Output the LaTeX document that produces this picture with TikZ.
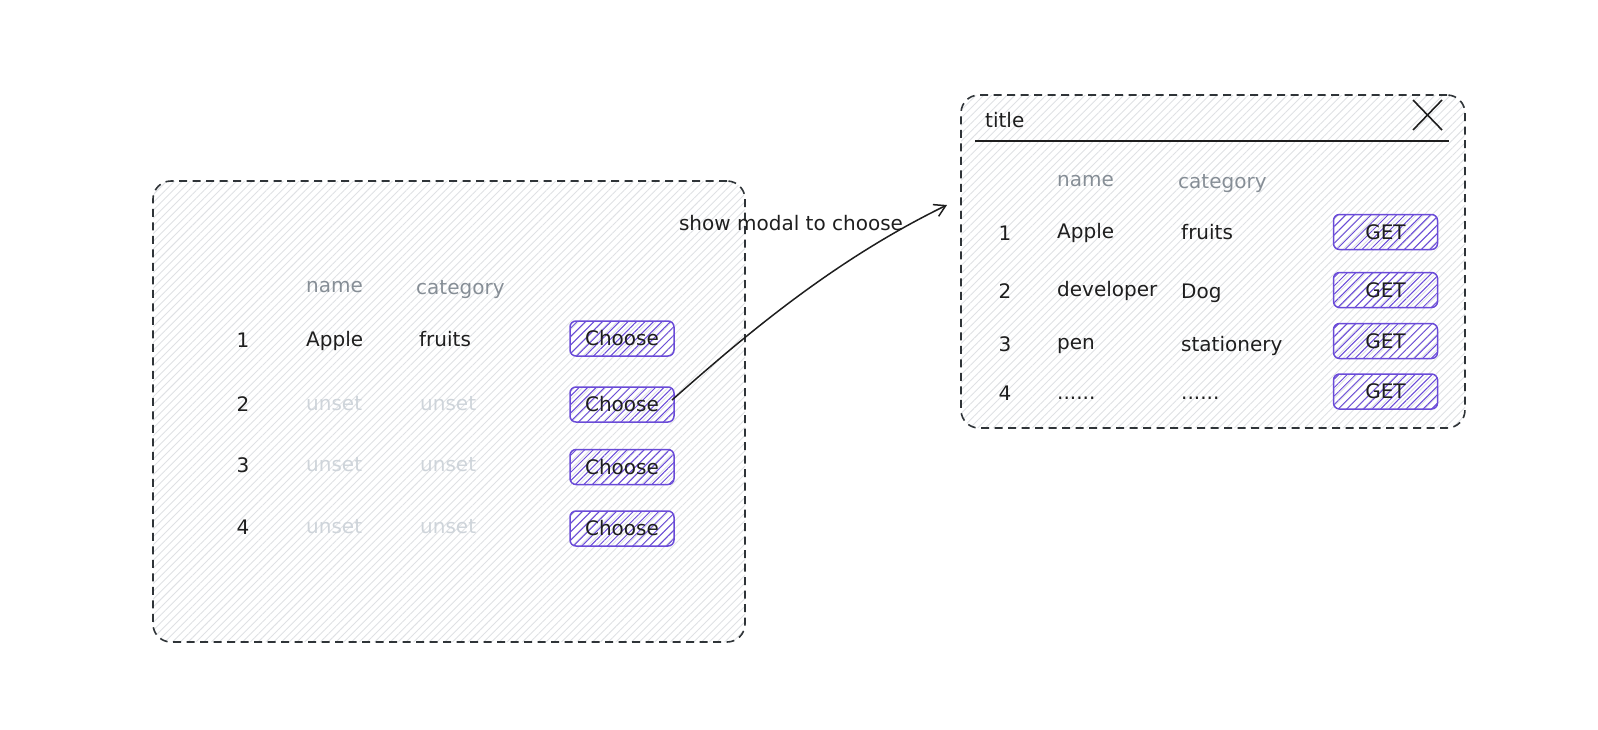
\documentclass[tikz,border=0pt]{standalone}
\usepackage{fontspec}
\setmainfont{DejaVu Sans}
\usetikzlibrary{patterns.meta,arrows.meta}
\definecolor{ink}{HTML}{1E1E1E}
\definecolor{boxline}{HTML}{2F3438}
\definecolor{hatchgray}{HTML}{DFE1E4}
\definecolor{violetline}{HTML}{6A4BD8}
\definecolor{headgray}{HTML}{868E96}
\definecolor{unsetgray}{HTML}{CED4DA}
\tikzset{
  panel/.style={draw=boxline, line width=1.6pt, dash pattern=on 8pt off 5.5pt,
    rounded corners=18pt, pattern={Lines[angle=45,distance=5.5pt,line width=0.9pt]},
    pattern color=hatchgray, inner sep=0pt},
  btn/.style={draw=violetline, line width=1.5pt, rounded corners=6pt,
    pattern={Lines[angle=45,distance=6pt,line width=1pt]}, pattern color=violetline,
    minimum width=104pt, minimum height=35pt, inner sep=0pt, text=ink,
    font=\fontsize{20}{20}\selectfont},
  txt/.style={anchor=west, inner sep=0pt, text=ink, text height=15pt, text depth=4pt,
    font=\fontsize{20}{24}\selectfont},
  num/.style={txt, anchor=center},
  head/.style={txt, text=headgray},
  unsetcell/.style={txt, text=unsetgray},
  conn/.style={draw=ink, line width=1.5pt, -{Straight Barb[length=11pt,width=13pt,line width=1.5pt]}},
}
\begin{document}
\begin{tikzpicture}[x=1pt,y=-1pt]
\useasboundingbox (0,0) rectangle (1598,729);
% left panel
\node[panel, minimum width=592pt, minimum height=461pt] (left) at (449,411.5) {};
\node[head] (lhn) at (306,287) {name};
\node[head] (lhc) at (416,289) {category};
\node[num] (l1) at (243,342) {1};
\node[num] (l2) at (243,406) {2};
\node[num] (l3) at (243,467) {3};
\node[num] (l4) at (243,529) {4};
\node[txt] (ln1) at (306,341) {Apple};
\node[txt] (lc1) at (419,341) {fruits};
\node[unsetcell] (ln2) at (306,405) {unset};
\node[unsetcell] (lc2) at (420,405) {unset};
\node[unsetcell] (ln3) at (306,466) {unset};
\node[unsetcell] (lc3) at (420,466) {unset};
\node[unsetcell] (ln4) at (306,528) {unset};
\node[unsetcell] (lc4) at (420,528) {unset};
\node[btn] (c1) at (622,338.5) {Choose};
\node[btn] (c2) at (622,404.5) {Choose};
\node[btn] (c3) at (622,467) {Choose};
\node[btn] (c4) at (622,528.5) {Choose};
% right panel
\node[panel, minimum width=504pt, minimum height=333pt] (right) at (1213,261.5) {};
\node[txt] (title) at (985,122) {title};
\coordinate (tl) at (975,141);
\coordinate (tr) at (1449,141);
\draw[draw=ink, line width=1.9pt] (tl) -- (tr);
\coordinate (xa) at (1413,100);
\coordinate (xb) at (1442,130);
\coordinate (xc) at (1442,100);
\coordinate (xd) at (1413,130);
\draw[draw=ink, line width=1.6pt] (xa) -- (xb) (xc) -- (xd);
\node[head] (rhn) at (1057,181) {name};
\node[head] (rhc) at (1178,183) {category};
\node[num] (r1) at (1005,235) {1};
\node[num] (r2) at (1005,293) {2};
\node[num] (r3) at (1005,346) {3};
\node[num] (r4) at (1005,395) {4};
\node[txt] (rn1) at (1057,233) {Apple};
\node[txt] (rc1) at (1181,234) {fruits};
\node[txt] (rn2) at (1057,291) {developer};
\node[txt] (rc2) at (1181,293) {Dog};
\node[txt] (rn3) at (1057,344) {pen};
\node[txt] (rc3) at (1181,346) {stationery};
\node[txt] (rn4) at (1057,394) {......};
\node[txt] (rc4) at (1181,394) {......};
\node[btn] (g1) at (1385.5,232) {GET};
\node[btn] (g2) at (1385.5,290) {GET};
\node[btn] (g3) at (1385.5,341) {GET};
\node[btn] (g4) at (1385.5,391.5) {GET};
% connector
\node[inner sep=0pt, text=ink, font=\fontsize{20}{24}\selectfont] (lbl) at (791,223) {show modal to choose};
\coordinate (astart) at (672,400);
\coordinate (aend) at (947,205);
\draw[conn] (astart) .. controls (740,340) and (830,262) .. (aend);
\end{tikzpicture}
\end{document}
